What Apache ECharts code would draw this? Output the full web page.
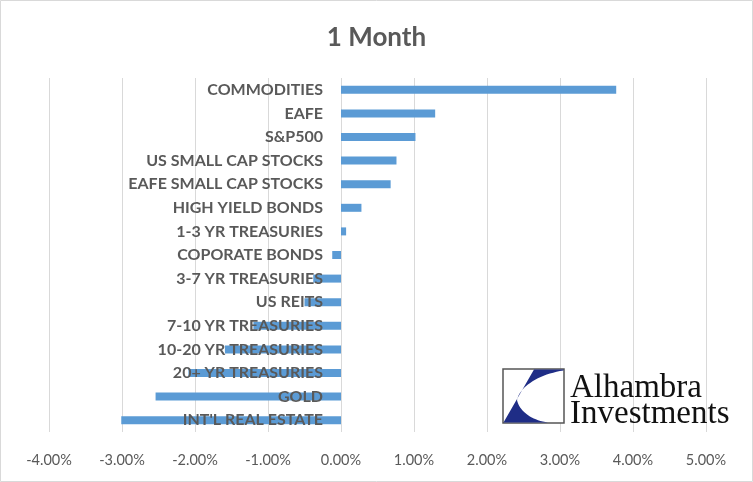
<!DOCTYPE html>
<html>
<head>
<meta charset="utf-8">
<script src="https://cdn.jsdelivr.net/npm/echarts@6/dist/echarts.min.js"></script>
<style>html,body{margin:0;padding:0;background:#fff}#c{width:753px;height:482px}</style>
</head>
<body>
<div id="c"></div>
<script>
const categories = ["COMMODITIES","EAFE","S&P500","US SMALL CAP STOCKS","EAFE SMALL CAP STOCKS","HIGH YIELD BONDS","1-3 YR TREASURIES","COPORATE BONDS","3-7 YR TREASURIES","US REITS","7-10 YR TREASURIES","10-20 YR TREASURIES","20+ YR TREASURIES","GOLD","INT'L REAL ESTATE"];
const values = [3.77, 1.29, 1.02, 0.76, 0.68, 0.28, 0.07, -0.12, -0.38, -0.50, -1.20, -1.59, -2.09, -2.54, -3.01];
const xTicks = { min: -4, max: 5, interval: 1 };
const titleText = "1 Month";
const logoLines = ["Alhambra", "Investments"];

// logo shape (decoration): cubic curve sampling
function cubic(p0, p1, p2, p3, n) {
  const pts = [];
  for (let i = 0; i <= n; i++) {
    const t = i / n, u = 1 - t;
    pts.push([
      u*u*u*p0[0] + 3*u*u*t*p1[0] + 3*u*t*t*p2[0] + t*t*t*p3[0],
      u*u*u*p0[1] + 3*u*u*t*p1[1] + 3*u*t*t*p2[1] + t*t*t*p3[1]
    ]);
  }
  return pts;
}
const logoPts = [[503.5,422.5],[534,369.5],[563.5,369.5]]
  .concat(cubic([563.5,370.5],[540,374],[520,386],[517,400],20))
  .concat(cubic([517,400],[519,410],[530,420],[548,422.5],20));

const chart = echarts.init(document.getElementById('c'), null, { renderer: 'canvas' });
const grey = '#595959';
chart.setOption({
  backgroundColor: '#fff',
  animation: false,
  title: {
    text: titleText, left: 'center', top: 20,
    textStyle: { fontFamily: 'Lato', fontWeight: 'bold', fontSize: 26, color: grey }
  },
  grid: { left: 49, right: 47, top: 78, bottom: 50, containLabel: false, outerBoundsMode: 'none' },
  xAxis: {
    type: 'value', min: xTicks.min, max: xTicks.max, interval: xTicks.interval,
    axisLine: { show: false }, axisTick: { show: false },
    splitLine: { lineStyle: { color: '#d9d9d9', width: 1 } },
    axisLabel: { color: grey, fontFamily: 'Lato', fontSize: 14.5, margin: 21,
      formatter: v => v.toFixed(2) + '%' }
  },
  yAxis: {
    type: 'category', data: categories, inverse: true,
    axisLine: { show: false }, axisTick: { show: false },
    axisLabel: { show: false }
  },
  series: [{
    type: 'bar', data: values, barWidth: 8, z: 2,
    itemStyle: { color: '#5b9bd5' }
  }, {
    type: 'bar', data: categories.map(() => 0), barWidth: 8, barGap: '-100%', z: 5,
    itemStyle: { color: 'rgba(0,0,0,0)' }, silent: true,
    label: { show: true, position: 'left', distance: 18, formatter: p => p.name,
      color: grey, fontFamily: 'Lato', fontWeight: 'bold', fontSize: 16 }
  }],
  graphic: [
    { type: 'rect', shape: { x: 0.5, y: 0.5, width: 752, height: 481 }, style: { fill: 'none', stroke: '#d9d9d9', lineWidth: 1 }, z: 100 },
    { type: 'rect', shape: { x: 503, y: 369, width: 61, height: 54 }, style: { fill: '#fff', stroke: '#555', lineWidth: 1.5 }, z: 100 },
    { type: 'polygon', shape: { points: logoPts }, style: { fill: '#1f2d86' }, z: 101 },
    { type: 'text', x: 570, y: 372, style: { text: logoLines[0], font: '33px "Liberation Serif"', fill: '#111' }, z: 101 },
    { type: 'text', x: 570, y: 398, style: { text: logoLines[1], font: '33px "Liberation Serif"', fill: '#111' }, z: 101 }
  ]
});
</script>
</body>
</html>
